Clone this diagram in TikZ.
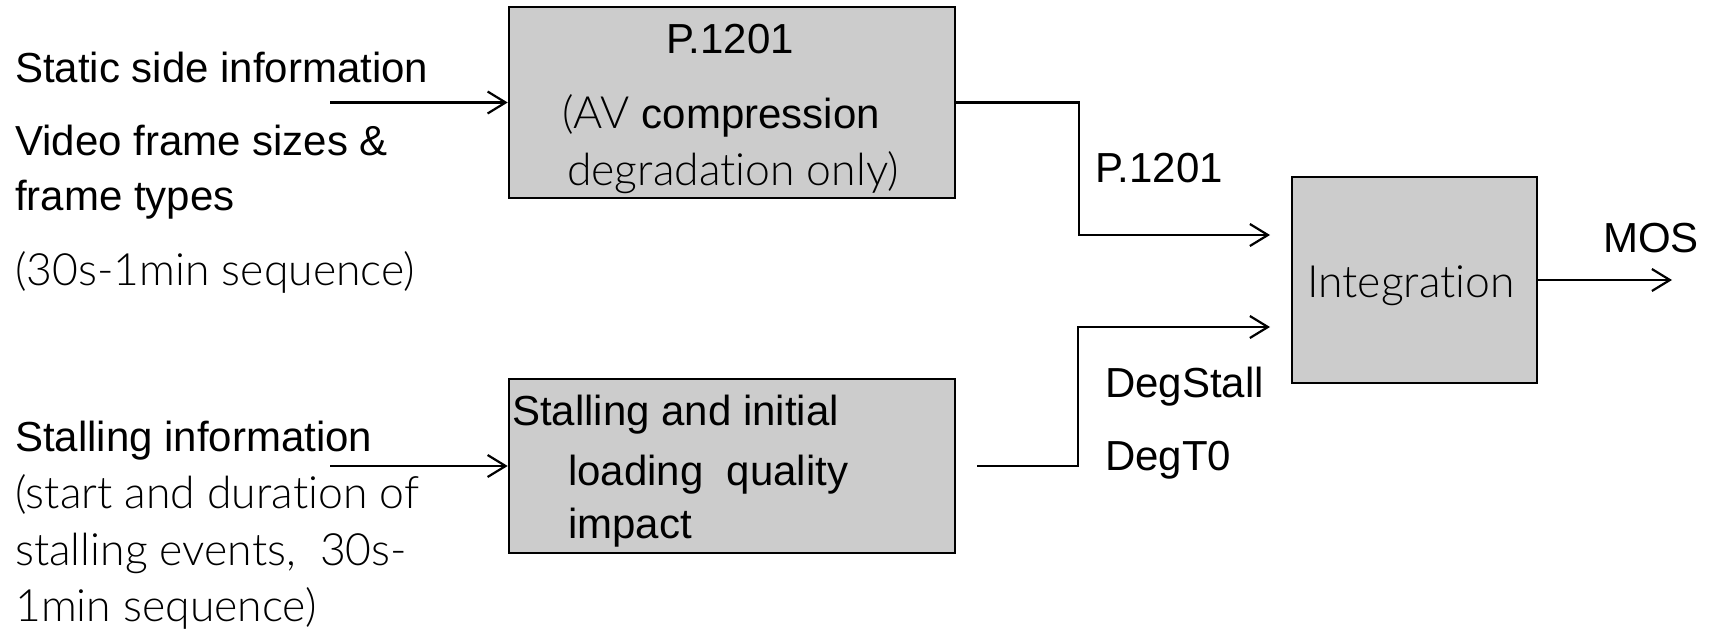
\documentclass[tikz,border=0pt]{standalone}
\usepackage{fontspec}
\setmainfont{Liberation Sans}
\newfontfamily\lightfont{Lato Light}[Scale=1.06, Ligatures=NoCommon]
\usetikzlibrary{arrows.meta}
\definecolor{boxgray}{HTML}{CCCCCC}
\begin{document}
\begin{tikzpicture}[x=1pt,y=-1pt,
  font=\fontsize{42}{50}\selectfont,
  blk/.style={draw=black, line width=2.6pt, fill=boxgray, inner sep=0pt},
  txt/.style={anchor=base west, inner sep=0pt},
  conn/.style={line width=2.2pt, -{Straight Barb[length=18pt,width=22pt]}},
  wire/.style={line width=2.2pt}]
\useasboundingbox (0,0) rectangle (1711,633);

% processing blocks
\node[blk, minimum width=446pt, minimum height=191pt] (p1201) at (732,102.5) {};
\node[blk, minimum width=446pt, minimum height=174pt] (stall) at (732,466) {};
\node[blk, minimum width=245pt, minimum height=206pt] (integ) at (1414.5,280) {};

% block texts
\node[anchor=base, inner sep=0pt] (p1201a) at (730,53) {P.1201};
\node[txt] (p1201b) at (562,128) {{\lightfont (AV }compression};
\node[txt] (p1201c) at (567,185) {\lightfont degradation only)};
\node[txt] (stalla) at (512,425) {Stalling and initial};
\node[txt] (stallb) at (568,485) {loading\ \ quality};
\node[txt] (stallc) at (568,538) {impact};
\node[txt] (integt) at (1307,297) {\lightfont Integration};

% inputs
\node[txt] (in1a) at (15,82) {Static side information};
\node[txt] (in1b) at (15,155) {Video frame sizes \&};
\node[txt] (in1c) at (15,210) {frame types};
\node[txt] (in1d) at (15,285) {\lightfont (30s-1min sequence)};
\node[txt] (in2a) at (15,451) {Stalling information};
\node[txt] (in2b) at (15,508) {\lightfont (start and duration of};
\node[txt] (in2c) at (15,565) {\lightfont stalling events,\ \ 30s-};
\node[txt] (in2d) at (15,621) {\lightfont 1min sequence)};

% signal labels
\node[txt] (lp) at (1095,182) {P.1201};
\node[txt] (ls) at (1105,397) {DegStall};
\node[txt] (lt) at (1105,470) {DegT0};
\node[txt] (lm) at (1603,252) {MOS};

% connectors
\coordinate (s1) at (330,102.5);
\coordinate (s2) at (330,466);
\draw[conn] (s1) -- (p1201.west);
\draw[conn] (s2) -- (stall.west);

\coordinate (k1) at (1079,235);
\coordinate (e1) at (1270,235);
\draw[conn] (p1201.east) -| (k1) -- (e1);

\coordinate (o2) at (977,466);
\coordinate (k2) at (1078,327);
\coordinate (e2) at (1270,327);
\draw[conn] (o2) -| (k2) -- (e2);

\coordinate (mos) at (1672,280);
\draw[conn] (integ.east) -- (mos);
\end{tikzpicture}
\end{document}
